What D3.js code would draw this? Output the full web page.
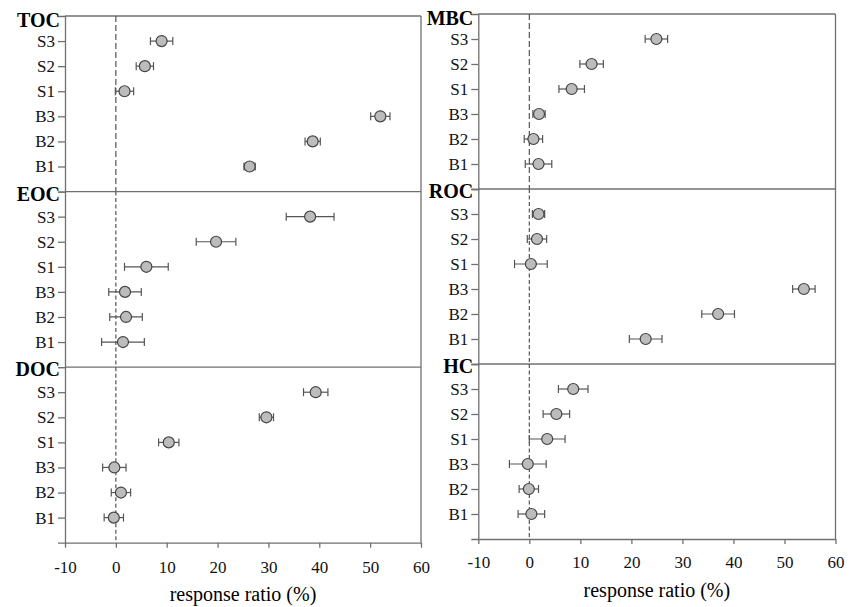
<!DOCTYPE html>
<html>
<head>
<meta charset="utf-8">
<script src="https://cdn.jsdelivr.net/npm/d3@7"></script>
<style>
  body { margin: 0; background: #fff; }
  svg { display: block; font-family: "Liberation Serif", "Times New Roman", serif; }
  .axis path, .axis line { stroke: #707070; stroke-width: 1.3; }
  .axis text { fill: #111; font-size: 17px; font-family: "Liberation Serif", "Times New Roman", serif; }
</style>
</head>
<body>
<svg width="859" height="607"></svg>
<script>
// row labels, top to bottom
var rows = ["S3", "S2", "S1", "B3", "B2", "B1"];
var xTicks = [-10, 0, 10, 20, 30, 40, 50, 60];

// mean response ratio (%) and half width of the error bar, per row
var tocMean = [9.0, 5.7, 1.7, 52.0, 38.7, 26.3];
var tocErr  = [2.2, 1.7, 1.8, 1.9, 1.5, 1.1];
var eocMean = [38.2, 19.7, 6.0, 1.8, 2.0, 1.4];
var eocErr  = [4.7, 3.9, 4.3, 3.2, 3.2, 4.2];
var docMean = [39.3, 29.6, 10.4, -0.3, 1.0, -0.4];
var docErr  = [2.4, 1.4, 2.0, 2.3, 1.9, 1.9];
var mbcMean = [24.9, 12.2, 8.3, 1.9, 0.8, 1.8];
var mbcErr  = [2.2, 2.3, 2.5, 1.2, 1.8, 2.6];
var rocMean = [1.8, 1.5, 0.3, 53.8, 37.0, 22.8];
var rocErr  = [1.2, 1.9, 3.2, 2.2, 3.2, 3.2];
var hcMean  = [8.6, 5.3, 3.5, -0.3, -0.1, 0.4];
var hcErr   = [2.9, 2.6, 3.5, 3.6, 1.9, 2.6];

var columns = [
    { x0: 65, x1: 421, top: 16, bottom: 542.7, titleY: 573, labelY: 601,
      panels: [["TOC", tocMean, tocErr], ["EOC", eocMean, eocErr], ["DOC", docMean, docErr]] },
    { x0: 478.3, x1: 835.5, top: 14, bottom: 539, titleY: 568, labelY: 597,
      panels: [["MBC", mbcMean, mbcErr], ["ROC", rocMean, rocErr], ["HC", hcMean, hcErr]] }
];

var svg = d3.select("svg");
var lineColor = "#707070";

columns.forEach(function (col) {
    var g = svg.append("g");
    var x = d3.scaleLinear().domain([-10, 60]).range([col.x0, col.x1]);
    var h = (col.bottom - col.top) / col.panels.length;

    col.panels.forEach(function (p, k) {
        var t = col.top + k * h;
        var y = d3.scalePoint().domain(rows).range([t, t + h]).padding(1);
        var data = rows.map(function (r, i) { return { row: r, mean: p[1][i], err: p[2][i] }; });
        var pg = g.append("g");

        // horizontal border on top of each sub panel
        pg.append("line")
            .attr("x1", col.x0).attr("x2", col.x1)
            .attr("y1", t).attr("y2", t)
            .attr("stroke", lineColor).attr("stroke-width", 1.3);

        // zero reference line
        pg.append("line")
            .attr("x1", x(0)).attr("x2", x(0))
            .attr("y1", t).attr("y2", t + h)
            .attr("stroke", "#555").attr("stroke-width", 1.2)
            .attr("stroke-dasharray", k === 0 ? "6,3" : "4,2.5");

        pg.append("g")
            .attr("class", "axis")
            .attr("transform", "translate(" + col.x0 + ",0)")
            .call(d3.axisLeft(y).tickSize(7).tickSizeOuter(7).tickPadding(3));

        pg.append("text")
            .attr("x", col.x0 - 5)
            .attr("y", t + (k === 0 ? 11 : 9))
            .attr("text-anchor", "end")
            .style("font-size", "20px")
            .style("font-weight", "bold")
            .text(p[0]);

        var pt = pg.selectAll(".pt").data(data).enter().append("g").attr("class", "pt");
        pt.append("line")
            .attr("x1", function (d) { return x(d.mean - d.err); })
            .attr("x2", function (d) { return x(d.mean + d.err); })
            .attr("y1", function (d) { return y(d.row); })
            .attr("y2", function (d) { return y(d.row); })
            .attr("stroke", "#555").attr("stroke-width", 1.2);
        [-1, 1].forEach(function (s) {
            pt.append("line")
                .attr("x1", function (d) { return x(d.mean + s * d.err); })
                .attr("x2", function (d) { return x(d.mean + s * d.err); })
                .attr("y1", function (d) { return y(d.row) - 4; })
                .attr("y2", function (d) { return y(d.row) + 4; })
                .attr("stroke", "#555").attr("stroke-width", 1.2);
        });
        pt.append("circle")
            .attr("cx", function (d) { return x(d.mean); })
            .attr("cy", function (d) { return y(d.row); })
            .attr("r", 5.5)
            .attr("fill", "#bcbcbc")
            .attr("stroke", "#444")
            .attr("stroke-width", 1.2);
    });

    // right border
    g.append("line")
        .attr("x1", col.x1).attr("x2", col.x1)
        .attr("y1", col.top).attr("y2", col.bottom)
        .attr("stroke", lineColor).attr("stroke-width", 1.3);

    var xa = g.append("g")
        .attr("class", "axis")
        .attr("transform", "translate(0," + col.bottom + ")")
        .call(d3.axisBottom(x).tickValues(xTicks).tickSize(5).tickSizeOuter(0)
            .tickFormat(function (d) { return String(d); }));
    xa.selectAll("text").attr("y", col.titleY - col.bottom).attr("dy", 0);

    g.append("text")
        .attr("x", (col.x0 + col.x1) / 2)
        .attr("y", col.labelY)
        .attr("text-anchor", "middle")
        .style("font-size", "20px")
        .text("response ratio (%)");
});
</script>
</body>
</html>
